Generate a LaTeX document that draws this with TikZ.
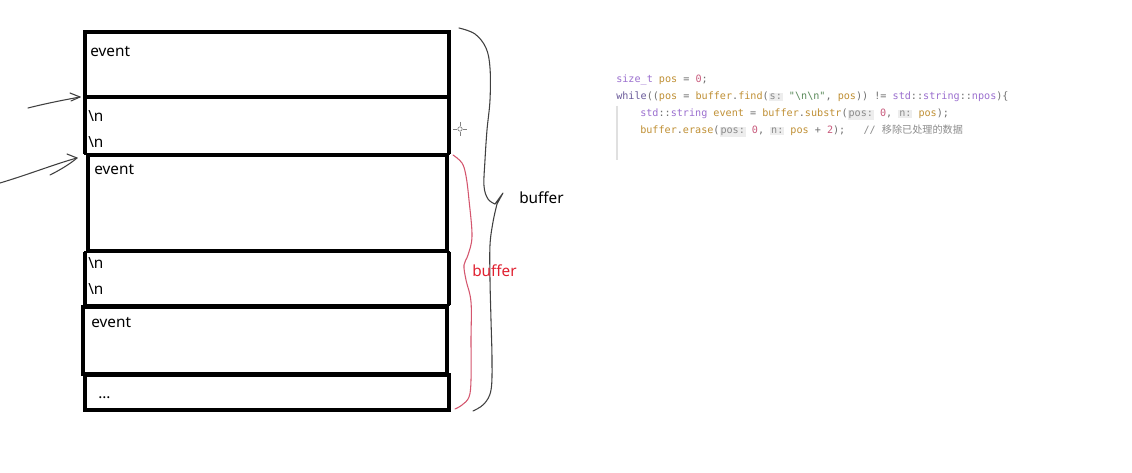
\documentclass[tikz,border=0pt]{standalone}
\usepackage{fontspec}
\setmainfont{Noto Sans}
\setmonofont{DejaVu Sans Mono}
\newfontfamily\cjk{Noto Sans CJK SC}
\definecolor{cpurple}{HTML}{9B6FCF}
\definecolor{cwhile}{HTML}{6A5A9A}
\definecolor{cgold}{HTML}{C09035}
\definecolor{cnum}{HTML}{C85A7C}
\definecolor{cop}{HTML}{707070}
\definecolor{cstr}{HTML}{5A8A5A}
\definecolor{ccom}{HTML}{8C8C8C}
\definecolor{hintbg}{HTML}{EDEDED}
\definecolor{hintfg}{HTML}{8A8A8A}
\definecolor{penblk}{HTML}{404040}
\definecolor{penred}{HTML}{D4566E}
\definecolor{txtred}{HTML}{E02030}
\newcommand\cP[1]{\textcolor{cpurple}{#1}}
\newcommand\cW[1]{\textcolor{cwhile}{#1}}
\newcommand\cG[1]{\textcolor{cgold}{#1}}
\newcommand\cN[1]{\textcolor{cnum}{#1}}
\newcommand\cO[1]{\textcolor{cop}{#1}}
\newcommand\cS[1]{\textcolor{cstr}{#1}}
\newcommand\hintbox[1]{{\setlength{\fboxsep}{0.7pt}\colorbox{hintbg}{\textcolor{hintfg}{#1}}}}
\begin{document}
\begin{tikzpicture}[x=0.75pt,y=-0.75pt,
  thickbox/.style={draw=black,line width=3pt,anchor=north west,inner sep=0pt,outer sep=0pt},
  thinbox/.style={draw=black,line width=1.6pt,anchor=north west,inner sep=0pt,outer sep=0pt},
  lbl/.style={anchor=base west,inner sep=0pt,font=\fontsize{11.5pt}{13pt}\selectfont},
  code/.style={anchor=base west,inner sep=0pt,font=\ttfamily\fontsize{7.6pt}{9pt}\selectfont},
  pen/.style={draw=penblk,line width=0.8pt,line cap=round,line join=round},
  redpen/.style={draw=penred,line width=0.8pt,line cap=round,line join=round}]
\useasboundingbox (0,0) rectangle (1132,473);
\fill[white] (0,0) rectangle (1132,473);

% boxes
\node[thinbox,minimum width=273pt,minimum height=42.75pt] (B) at (85,97) {};
\node[thinbox,minimum width=273pt,minimum height=39.75pt] (D) at (85,252) {};
\node[thickbox,minimum width=273pt,minimum height=48.75pt] (A) at (85,32) {};
\node[thickbox,minimum width=269.25pt,minimum height=72pt] (C) at (88,155) {};
\node[thickbox,minimum width=273pt,minimum height=50.25pt] (E) at (83,307) {};
\node[thickbox,minimum width=273pt,minimum height=26.25pt] (F) at (85,375) {};
\draw[line width=2.6pt] (B.north west) -- (B.south west);
\draw[line width=2.6pt] (B.north east) -- (B.south east);
\draw[line width=2.6pt] (D.north west) -- (D.south west);
\draw[line width=2.6pt] (D.north east) -- (D.south east);

% texts in boxes
\node[lbl] (tA) at (90,57) {event};
\node[lbl] (tB1) at (88,122) {\textbackslash n};
\node[lbl] (tB2) at (88,148) {\textbackslash n};
\node[lbl] (tC) at (94,175) {event};
\node[lbl] (tD1) at (88,269) {\textbackslash n};
\node[lbl] (tD2) at (88,295) {\textbackslash n};
\node[lbl] (tE) at (91,328) {event};
\node[lbl] (tF) at (98,399) {...};

% hand-drawn arrows
\coordinate (a1s) at (28,108);
\coordinate (t1) at ([xshift=-3.75pt]B.north west);
\draw[pen] (a1s) .. controls (48,103) and (64,100) .. (t1);
\draw[pen] (t1) -- ++(-10,-4);
\draw[pen] (t1) -- ++(-9,4);
\coordinate (a2s) at (0,183);
\coordinate (t2) at ([xshift=-8.25pt,yshift=-2.25pt]C.north west);
\draw[pen] (a2s) .. controls (30,174) and (55,164) .. (t2);
\draw[pen] (t2) -- ++(-10,-4);
\draw[pen] (50,175) .. controls (60,170) and (70,164) .. (t2);

% black brace
\draw[pen] plot[smooth,tension=0.6] coordinates {(459,28) (475,34) (486,48) (490,68) (490,100) (487,130) (485,160) (484,186) (488,199) (495,204)};
\draw[pen] (495,204) -- (503,193) -- (497,204);
\draw[pen] plot[smooth,tension=0.6] coordinates {(497,204) (493,222) (490,245) (490,280) (491,320) (492,360) (491,390) (484,404) (473,411)};

% red brace
\draw[redpen] plot[smooth,tension=0.6] coordinates {(453,155) (462,163) (466,176) (469,200) (472,236) (468,255) (464,265) (466,280) (471,302) (471,340) (471,380) (469,397) (462,405) (455,409)};

% cursor crosshair
\draw[draw=gray,line width=0.6pt] (453,129) -- (457,129) (463,129) -- (467,129) (460,122) -- (460,126) (460,132) -- (460,136);
\draw[draw=gray,line width=0.5pt] (460,129) circle (2.2);

% brace labels
\node[lbl] (buf1) at (519,204) {buffer};
\node[lbl,text=txtred] (buf2) at (472,277) {buffer};

% code
\draw[draw=black!12,line width=0.8pt] (617,106) -- (617,160);
\node[code] (c1) at (616,83) {\cP{size\_t} \cG{pos} \cO{=} \cN{0}\cO{;}};
\node[code] (c2) at (616,100) {\cW{while}\cO{((}\cG{pos} \cO{=} \cG{buffer}\cO{.}\cG{find}\cO{(}\hintbox{s:}~\cS{"\textbackslash n\textbackslash n"}\cO{,} \cG{pos}\cO{))} \cO{!=} \cP{std}\cO{::}\cP{string}\cO{::}\cP{npos}\cO{)\{}};
\node[code] (c3) at (640,117) {\cP{std}\cO{::}\cP{string} \cG{event} \cO{=} \cG{buffer}\cO{.}\cG{substr}\cO{(}\hintbox{pos:}~\cN{0}\cO{,} \hintbox{n:}~\cG{pos}\cO{);}};
\node[code] (c4) at (640,134) {\cG{buffer}\cO{.}\cG{erase}\cO{(}\hintbox{pos:}~\cN{0}\cO{,} \hintbox{n:}~\cG{pos} \cO{+} \cN{2}\cO{);}\ \ \ \textcolor{ccom}{// {\cjk 移除已处理的数据}}};
\end{tikzpicture}
\end{document}
